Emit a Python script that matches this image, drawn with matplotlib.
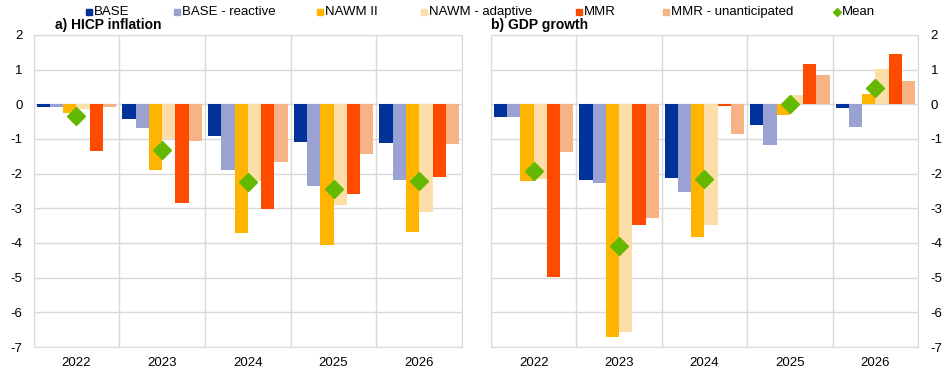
import matplotlib.pyplot as plt
from matplotlib.lines import Line2D
import numpy as np

plt.rcParams['font.family'] = ['Liberation Sans', 'DejaVu Sans']
plt.rcParams['axes.unicode_minus'] = False

years = ['2022', '2023', '2024', '2025', '2026']
series = ['BASE', 'BASE - reactive', 'NAWM II', 'NAWM - adaptive', 'MMR', 'MMR - unanticipated']
colors = ['#003299', '#99a2d2', '#ffb400', '#fddea8', '#ff4b00', '#f5b386']
mean_color = '#65b800'

# a) HICP inflation
hicp_base = [-0.09, -0.43, -0.92, -1.09, -1.12]
hicp_base_reactive = [-0.09, -0.68, -1.90, -2.36, -2.18]
hicp_nawm = [-0.25, -1.90, -3.72, -4.07, -3.69]
hicp_nawm_adaptive = [-0.14, -1.00, -2.22, -2.91, -3.11]
hicp_mmr = [-1.35, -2.86, -3.03, -2.59, -2.10]
hicp_mmr_unant = [-0.08, -1.06, -1.67, -1.43, -1.14]
hicp_mean = [-0.34, -1.33, -2.23, -2.43, -2.21]

# b) GDP growth
gdp_base = [-0.37, -2.19, -2.12, -0.61, -0.12]
gdp_base_reactive = [-0.37, -2.28, -2.52, -1.18, -0.66]
gdp_nawm = [-2.22, -6.71, -3.84, -0.32, 0.30]
gdp_nawm_adaptive = [-2.14, -6.57, -3.47, 0.27, 1.02]
gdp_mmr = [-4.99, -3.47, -0.04, 1.17, 1.46]
gdp_mmr_unant = [-1.38, -3.27, -0.87, 0.85, 0.68]
gdp_mean = [-1.93, -4.08, -2.14, 0.00, 0.46]

hicp = [hicp_base, hicp_base_reactive, hicp_nawm, hicp_nawm_adaptive, hicp_mmr, hicp_mmr_unant]
gdp = [gdp_base, gdp_base_reactive, gdp_nawm, gdp_nawm_adaptive, gdp_mmr, gdp_mmr_unant]

fig = plt.figure(figsize=(9.45, 3.73), dpi=100)
ax1 = fig.add_axes([0.0355, 0.0697, 0.4535, 0.8365])
ax2 = fig.add_axes([0.5196, 0.0697, 0.4518, 0.8365])

x = np.arange(len(years))
w = 0.155


def draw_panel(ax, data, mean, title, right=False):
    for i, vals in enumerate(data):
        ax.bar(x + (i - 2.5) * w, vals, width=w, color=colors[i], zorder=2)
    ax.plot(x, mean, linestyle='none', marker='D', markersize=9,
            color=mean_color, zorder=3)
    ax.set_xlim(-0.5, len(years) - 0.5)
    ax.set_ylim(-7, 2)
    ax.set_yticks(range(-7, 3))
    ax.set_xticks(x)
    ax.set_xticklabels(years)
    ax.set_xticks(np.arange(-0.5, len(years)), minor=True)
    ax.grid(True, which='major', axis='y', color='#d9d9d9', linewidth=1, zorder=0)
    ax.grid(True, which='minor', axis='x', color='#d9d9d9', linewidth=1, zorder=0)
    ax.tick_params(axis='both', which='both', length=0, labelsize=9.5, colors='black')
    ax.tick_params(axis='x', pad=7)
    if right:
        ax.yaxis.tick_right()
        ax.tick_params(axis='y', pad=9)
    else:
        ax.tick_params(axis='y', pad=8)
    for s in ax.spines.values():
        s.set_color('#d9d9d9')
    ax.set_title(title, loc='left', fontsize=10, fontweight='bold', pad=4,
                 x=0.05 if not right else 0.0)


draw_panel(ax1, hicp, hicp_mean, 'a) HICP inflation')
draw_panel(ax2, gdp, gdp_mean, 'b) GDP growth', right=True)

# legend across the top
leg_x = [86, 174, 317, 421, 576, 663, 834]
leg_y = 1 - 12 / 373
labels = series + ['Mean']
for i, lab in enumerate(labels):
    xf = (leg_x[i] + 3) / 945
    if i < 6:
        m = Line2D([xf], [leg_y], marker='s', markersize=4.5, color=colors[i],
                   linestyle='none', transform=fig.transFigure)
    else:
        m = Line2D([xf], [leg_y], marker='D', markersize=4, color=mean_color,
                   linestyle='none', transform=fig.transFigure)
    fig.add_artist(m)
    fig.text(xf + 5 / 945, leg_y, lab, fontsize=9.5, va='center', ha='left')

fig.savefig('out.png', dpi=100)
